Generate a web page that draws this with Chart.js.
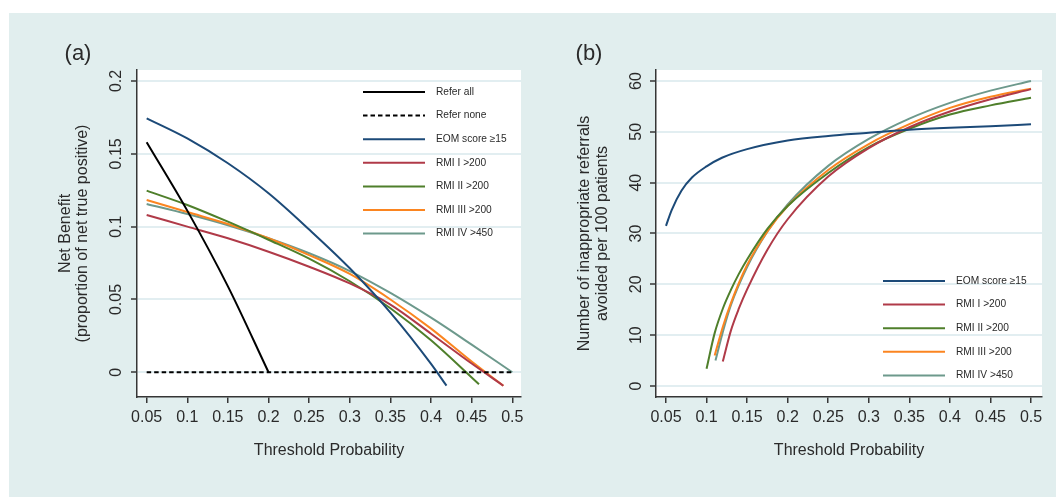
<!DOCTYPE html>
<html>
<head>
<meta charset="utf-8">
<script src="https://cdn.jsdelivr.net/npm/chart.js@4"></script>
<style>
  html, body { margin: 0; padding: 0; background: #fff; }
  #wrap { position: relative; width: 1056px; height: 497px; overflow: hidden; }
  #bg { position: absolute; left: 9px; top: 13px; right: 0; bottom: 0; background: #e1eeee; }
  #panelA { position: absolute; left: 0; top: 0; width: 530px; height: 497px; }
  #panelB { position: absolute; left: 530px; top: 0; width: 526px; height: 497px; }
</style>
</head>
<body>
<div id="wrap">
  <div id="bg"></div>
  <canvas id="panelA" width="530" height="497"></canvas>
  <canvas id="panelB" width="526" height="497"></canvas>
</div>
<script>
// tick values + labels (shared x axis)
const xTicks = [0.05, 0.1, 0.15, 0.2, 0.25, 0.3, 0.35, 0.4, 0.45, 0.5];
const xTickLabels = ['0.05', '0.1', '0.15', '0.2', '0.25', '0.3', '0.35', '0.4', '0.45', '0.5'];
const yTicksA = [0, 0.05, 0.1, 0.15, 0.2];
const yTickLabelsA = ['0', '0.05', '0.1', '0.15', '0.2'];
const yTicksB = [0, 10, 20, 30, 40, 50, 60];
const yTickLabelsB = ['0', '10', '20', '30', '40', '50', '60'];

// (a) net benefit
const referAllX = [0.05, 0.1, 0.15, 0.2];
const referAllY = [0.158, 0.111, 0.059, 0];
const referNoneX = [0.05, 0.5];
const referNoneY = [0, 0];
const eomAX = [0.05, 0.1, 0.15, 0.2, 0.25, 0.3, 0.35, 0.4, 0.419];
const eomAY = [0.1744, 0.1606, 0.1435, 0.1229, 0.098, 0.0714, 0.041, 0.0058, -0.0092];
const rmi1AX = [0.05, 0.1, 0.15, 0.2, 0.25, 0.3, 0.35, 0.4, 0.45, 0.489];
const rmi1AY = [0.108, 0.100, 0.092, 0.0828, 0.0725, 0.061, 0.0465, 0.0265, 0.006, -0.0092];
const rmi2AX = [0.05, 0.1, 0.15, 0.2, 0.25, 0.3, 0.35, 0.4, 0.45, 0.459];
const rmi2AY = [0.1247, 0.1149, 0.1034, 0.091, 0.078, 0.0625, 0.044, 0.022, -0.0035, -0.0082];
const rmi3AX = [0.05, 0.1, 0.15, 0.2, 0.25, 0.3, 0.35, 0.4, 0.45, 0.489];
const rmi3AY = [0.1183, 0.110, 0.1018, 0.092, 0.0805, 0.0675, 0.050, 0.030, 0.0074, -0.0092];
const rmi4AX = [0.05, 0.1, 0.15, 0.2, 0.25, 0.3, 0.35, 0.4, 0.45, 0.5];
const rmi4AY = [0.1156, 0.1087, 0.101, 0.092, 0.0817, 0.0695, 0.0545, 0.0375, 0.019, 0.0];

// (b) inappropriate referrals avoided per 100
const eomBX = [0.05, 0.057, 0.069, 0.082, 0.1, 0.119, 0.15, 0.2, 0.25, 0.3, 0.35, 0.4, 0.45, 0.5];
const eomBY = [31.5, 34.6, 38.4, 41.0, 43.2, 44.9, 46.6, 48.3, 49.2, 49.8, 50.4, 50.8, 51.1, 51.5];
const rmi1BX = [0.12, 0.13, 0.14, 0.15, 0.175, 0.2, 0.25, 0.3, 0.35, 0.4, 0.45, 0.5];
const rmi1BY = [4.8, 10.9, 15.3, 19.0, 26.8, 32.8, 41.2, 46.8, 50.9, 54.0, 56.4, 58.4];
const rmi2BX = [0.1, 0.11, 0.12, 0.13, 0.14, 0.15, 0.175, 0.2, 0.25, 0.3, 0.35, 0.4, 0.45, 0.5];
const rmi2BY = [3.4, 10.4, 15.2, 18.9, 22.1, 24.9, 30.9, 35.4, 41.9, 47.0, 50.6, 53.4, 55.2, 56.7];
const rmi3BX = [0.11, 0.12, 0.13, 0.15, 0.175, 0.2, 0.25, 0.3, 0.35, 0.4, 0.45, 0.5];
const rmi3BY = [6.0, 11.6, 16.3, 23.8, 30.4, 35.4, 42.5, 47.6, 51.5, 54.7, 56.9, 58.5];
const rmi4BX = [0.111, 0.12, 0.13, 0.15, 0.175, 0.2, 0.25, 0.3, 0.35, 0.4, 0.45, 0.5];
const rmi4BY = [5.0, 10.6, 15.9, 23.4, 30.4, 35.7, 43.3, 48.6, 52.6, 55.7, 58.1, 60.0];

const FONT = '"Liberation Sans", Arial, sans-serif';
const TEXT = '#2a2a2a';
const AXIS = '#363636';
const GRID = '#e2eef1';
const C = { black: '#000000', navy: '#1c4a78', red: '#b03a48', green: '#4f7f2b', orange: '#fb8520', teal: '#6d998c' };

function pts(xs, ys) {
    return xs.map((x, i) => ({ x: x, y: ys[i] }));
}

function line(label, xs, ys, color, dash) {
    return {
        label: label,
        data: pts(xs, ys),
        borderColor: color,
        backgroundColor: color,
        borderWidth: 2,
        borderDash: dash || [],
        pointRadius: 0,
        fill: false,
        cubicInterpolationMode: 'monotone',
    };
}

// draws the white plot area, rotated y labels, titles and the inside legend
const decor = {
    id: 'decor',
    beforeDraw(chart) {
        const { ctx, chartArea: a } = chart;
        ctx.save();
        ctx.fillStyle = '#ffffff';
        ctx.fillRect(a.left, a.top, a.right - a.left, a.bottom - a.top);
        ctx.restore();
    },
    afterDraw(chart, args, o) {
        const { ctx, chartArea: a } = chart;
        const x = chart.scales.x, y = chart.scales.y;
        ctx.save();
        ctx.fillStyle = TEXT;
        ctx.textAlign = 'center';
        ctx.textBaseline = 'middle';

        ctx.font = '16px ' + FONT;
        x.ticks.forEach((t, i) => ctx.fillText(xTickLabels[i], x.getPixelForValue(t.value), 418));
        ctx.fillText('Threshold Probability', (a.left + a.right) / 2, 451);

        y.ticks.forEach((t, i) => {
            ctx.save();
            ctx.translate(o.yTickX, y.getPixelForValue(t.value));
            ctx.rotate(-Math.PI / 2);
            ctx.fillText(o.yLabels[i], 0, 0);
            ctx.restore();
        });

        ctx.save();
        ctx.translate(0, (a.top + a.bottom) / 2);
        ctx.rotate(-Math.PI / 2);
        o.yTitle.forEach((s, i) => ctx.fillText(s, 0, o.yTitleX[i]));
        ctx.restore();

        ctx.font = '22px ' + FONT;
        ctx.fillText(o.tag, o.tagX, 54);

        // legend
        ctx.font = '10.2px ' + FONT;
        ctx.textAlign = 'left';
        chart.data.datasets.forEach((ds, i) => {
            const ly = o.legY + i * o.legGap;
            ctx.save();
            ctx.strokeStyle = ds.borderColor;
            ctx.lineWidth = 2;
            ctx.setLineDash(ds.borderDash);
            ctx.beginPath();
            ctx.moveTo(o.legX, ly);
            ctx.lineTo(o.legX + 62, ly);
            ctx.stroke();
            ctx.restore();
            ctx.fillText(ds.label, o.legX + 73, ly);
        });
        ctx.restore();
    }
};

function makeChart(id, datasets, xr, yr, yTicks, yWidth, padRight, deco) {
    return new Chart(document.getElementById(id), {
        type: 'line',
        data: { datasets: datasets },
        options: {
            responsive: false,
            animation: false,
            layout: { padding: { left: 0, top: 70, right: padRight, bottom: 0 } },
            plugins: {
                legend: { display: false },
                tooltip: { enabled: false },
                decor: deco,
            },
            scales: {
                x: {
                    type: 'linear',
                    min: xr[0],
                    max: xr[1],
                    afterBuildTicks: s => { s.ticks = xTicks.map(v => ({ value: v })); },
                    afterFit: s => { s.height = 100; },
                    ticks: { display: false },
                    grid: { drawOnChartArea: false, drawTicks: true, tickLength: 6, color: AXIS, lineWidth: 1.5 },
                    border: { display: true, color: AXIS, width: 1.5 },
                },
                y: {
                    type: 'linear',
                    min: yr[0],
                    max: yr[1],
                    afterBuildTicks: s => { s.ticks = yTicks.map(v => ({ value: v })); },
                    afterFit: s => { s.width = yWidth; },
                    ticks: { display: false },
                    grid: { color: GRID, lineWidth: 2, tickColor: AXIS, tickWidth: 1.5, tickLength: 6 },
                    border: { display: true, color: AXIS, width: 1.5 },
                },
            },
        },
        plugins: [decor],
    });
}

makeChart('panelA', [
    line('Refer all', referAllX, referAllY, C.black),
    line('Refer none', referNoneX, referNoneY, C.black, [4.5, 3]),
    line('EOM score \u226515', eomAX, eomAY, C.navy),
    line('RMI I >200', rmi1AX, rmi1AY, C.red),
    line('RMI II >200', rmi2AX, rmi2AY, C.green),
    line('RMI III >200', rmi3AX, rmi3AY, C.orange),
    line('RMI IV >450', rmi4AX, rmi4AY, C.teal),
], [0.0381, 0.5107], [-0.01696, 0.20755], yTicksA, 137, 9, {
    tag: '(a)', tagX: 78,
    yLabels: yTickLabelsA, yTickX: 117,
    yTitle: ['Net Benefit', '(proportion of net true positive)'], yTitleX: [66, 83],
    legX: 363, legY: 92, legGap: 23.6,
});

makeChart('panelB', [
    line('EOM score \u226515', eomBX, eomBY, C.navy),
    line('RMI I >200', rmi1BX, rmi1BY, C.red),
    line('RMI II >200', rmi2BX, rmi2BY, C.green),
    line('RMI III >200', rmi3BX, rmi3BY, C.orange),
    line('RMI IV >450', rmi4BX, rmi4BY, C.teal),
], [0.03767, 0.51356], [-2.164, 62.16], yTicksB, 126, 14, {
    tag: '(b)', tagX: 59,
    yLabels: yTickLabelsB, yTickX: 107,
    yTitle: ['Number of inappropriate referrals', 'avoided per 100 patients'], yTitleX: [55, 73],
    legX: 353, legY: 281, legGap: 23.6,
});
</script>
</body>
</html>
